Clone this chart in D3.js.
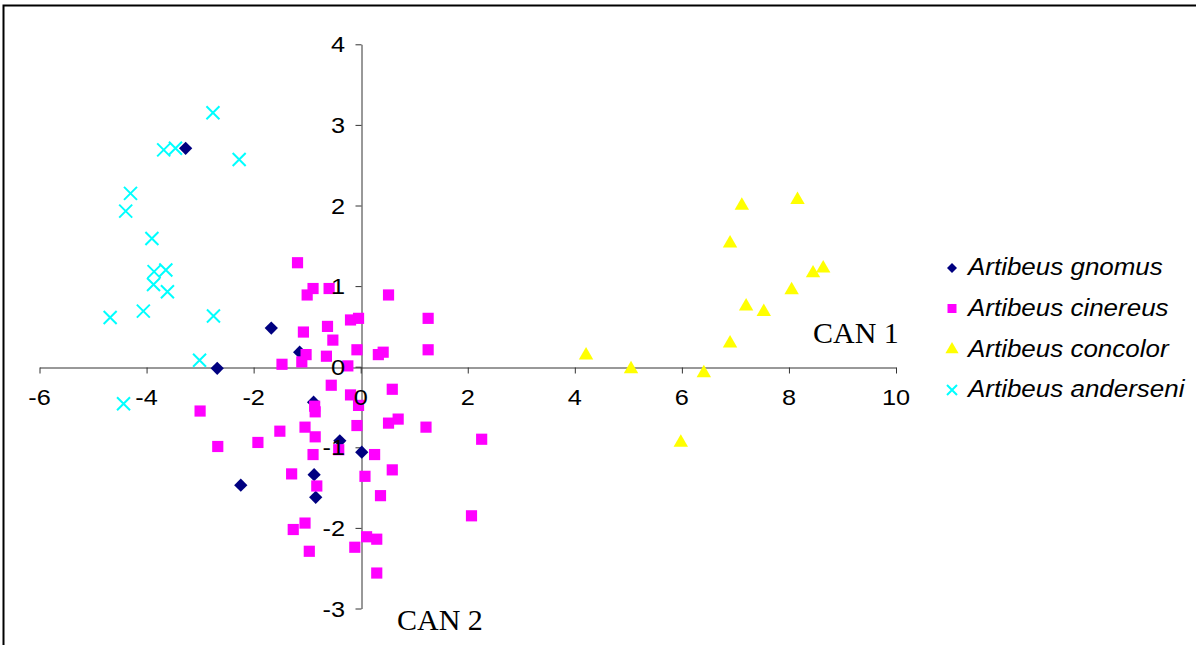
<!DOCTYPE html>
<html>
<head>
<meta charset="utf-8">
<script src="https://cdn.jsdelivr.net/npm/d3@7"></script>
<style>
  body { margin: 0; background: #fff; }
  svg { display: block; }
  .tick line, .domain { stroke: #333; }
</style>
</head>
<body>
<div id="chart"></div>
<script>
// canonical scores, [CAN 1, CAN 2]
var gnomus = [
  [-3.27, 2.71], [-1.67, 0.48], [-2.68, -0.02], [-1.14, 0.18], [-0.88, -0.44],
  [-0.39, -0.92], [0.02, -1.06], [-2.24, -1.47], [-0.87, -1.34], [-0.84, -1.62]
];
var cinereus = [
  [-1.18, 1.29], [-0.89, 0.97], [-1.00, 0.89], [-0.59, 0.97], [0.52, 0.89],
  [-0.19, 0.58], [-0.04, 0.60], [1.26, 0.60], [-0.62, 0.50], [-1.07, 0.43],
  [-0.52, 0.33], [-0.07, 0.21], [1.26, 0.21], [0.33, 0.15], [0.42, 0.18],
  [-1.02, 0.15], [-1.10, 0.06], [-0.64, 0.13], [-1.47, 0.03], [-0.24, 0.01],
  [-0.55, -0.23], [-0.19, -0.35], [-0.04, -0.48], [0.59, -0.28], [-3.00, -0.55],
  [-0.86, -0.49], [-0.85, -0.56], [-0.07, -0.73], [0.52, -0.70], [0.70, -0.65],
  [1.22, -0.75], [-1.51, -0.80], [-1.04, -0.75], [-0.85, -0.87], [-2.67, -0.99],
  [-1.92, -0.94], [2.26, -0.90], [-0.89, -1.09], [-0.41, -1.03], [0.26, -1.09],
  [-1.29, -1.33], [0.08, -1.36], [0.59, -1.28], [-0.82, -1.48], [0.37, -1.60],
  [2.07, -1.85], [-1.04, -1.94], [-1.26, -2.02], [0.11, -2.11], [0.30, -2.14],
  [-0.11, -2.24], [-0.96, -2.29], [0.30, -2.56]
];
var concolor = [
  [7.12, 2.00], [8.16, 2.07], [6.90, 1.53], [8.45, 1.16], [8.64, 1.22],
  [8.05, 0.95], [7.20, 0.75], [7.53, 0.68], [6.90, 0.29], [4.21, 0.14],
  [5.05, -0.03], [6.41, -0.08], [5.98, -0.94]
];
var anderseni = [
  [-2.76, 3.15], [-3.68, 2.69], [-3.46, 2.71], [-2.27, 2.57], [-4.30, 2.15],
  [-4.39, 1.93], [-3.90, 1.59], [-3.86, 1.18], [-3.64, 1.20], [-3.87, 1.02],
  [-3.61, 0.93], [-4.06, 0.69], [-4.68, 0.61], [-2.75, 0.63], [-3.01, 0.08],
  [-4.43, -0.46]
];
var xTicks = [-6, -4, -2, 0, 2, 4, 6, 8, 10];
var yTicks = [-3, -2, -1, 0, 1, 2, 3, 4];
var seriesNames = ["Artibeus gnomus", "Artibeus cinereus", "Artibeus concolor", "Artibeus anderseni"];

var width = 1196, height = 645;
var svg = d3.select("#chart").append("svg").attr("width", width).attr("height", height);

// outer frame (only top and left edges show in the window)
svg.append("rect").attr("x", 3.5).attr("y", 5.5).attr("width", 1400).attr("height", 900)
  .attr("fill", "none").attr("stroke", "#000").attr("stroke-width", 2);

var x = d3.scaleLinear().domain([-6, 10]).range([39.5, 896]);
var y = d3.scaleLinear().domain([-3, 4]).range([608.5, 44.3]);

// axis lines and tick marks go under the markers
var xAxis = d3.axisBottom(x).tickValues(xTicks).tickSize(6).tickSizeOuter(0).tickFormat("");
var yAxis = d3.axisLeft(y).tickValues(yTicks).tickSize(6).tickSizeOuter(0).tickFormat("");
svg.append("g").attr("transform", "translate(0," + Math.round(y(0)) + ".5)").call(xAxis);
svg.append("g").attr("transform", "translate(" + Math.round(x(0)) + ".5,0)").call(yAxis);

var pts = svg.append("g");
function sym(type, size) { return d3.symbol().type(type).size(size)(); }

pts.selectAll("path.gn").data(gnomus).enter().append("path").attr("class", "gn")
  .attr("d", sym(d3.symbolSquare, 88))
  .attr("transform", function (d) { return "translate(" + x(d[0]) + "," + y(d[1]) + ") rotate(45)"; })
  .attr("fill", "#000080");

pts.selectAll("path.ci").data(cinereus).enter().append("path").attr("class", "ci")
  .attr("d", sym(d3.symbolSquare, 125))
  .attr("transform", function (d) { return "translate(" + x(d[0]) + "," + y(d[1]) + ")"; })
  .attr("fill", "#ff00ff");

pts.selectAll("path.co").data(concolor).enter().append("path").attr("class", "co")
  .attr("d", sym(d3.symbolTriangle, 90))
  .attr("transform", function (d) { return "translate(" + x(d[0]) + "," + y(d[1]) + ")"; })
  .attr("fill", "#ffff00");

var cross = "M-6.5,-6.5L6.5,6.5M-6.5,6.5L6.5,-6.5";
pts.selectAll("path.an").data(anderseni).enter().append("path").attr("class", "an")
  .attr("d", cross)
  .attr("transform", function (d) { return "translate(" + x(d[0]) + "," + y(d[1]) + ")"; })
  .attr("fill", "none").attr("stroke", "#00ffff").attr("stroke-width", 2);

// tick labels sit on top of the markers
var lab = svg.append("g").attr("font-family", "Liberation Sans, Arial, sans-serif")
  .attr("font-size", 22).attr("fill", "#000");
lab.selectAll("text.xl").data(xTicks).enter().append("text").attr("class", "xl")
  .attr("text-anchor", "middle")
  .attr("transform", function (d) { return "translate(" + x(d) + ",405) scale(1.15,1)"; })
  .text(function (d) { return d; });
lab.selectAll("text.yl").data(yTicks).enter().append("text").attr("class", "yl")
  .attr("text-anchor", "end")
  .attr("transform", function (d) { return "translate(345," + (y(d) + 8) + ") scale(1.15,1)"; })
  .text(function (d) { return d; });

// axis titles
svg.append("text").attr("x", 813).attr("y", 343).attr("font-family", "Liberation Serif, Times New Roman, serif")
  .attr("font-size", 30).text("CAN 1");
svg.append("text").attr("x", 397).attr("y", 630).attr("font-family", "Liberation Serif, Times New Roman, serif")
  .attr("font-size", 30).text("CAN 2");

// legend
var legend = svg.append("g").attr("transform", "translate(952,0)");
var rowY = [268, 308.5, 349.5, 390];
var legMarks = [
  function (g) { g.append("path").attr("d", sym(d3.symbolSquare, 50)).attr("transform", "rotate(45)").attr("fill", "#000080"); },
  function (g) { g.append("path").attr("d", sym(d3.symbolSquare, 81)).attr("fill", "#ff00ff"); },
  function (g) { g.append("path").attr("d", sym(d3.symbolTriangle, 75)).attr("fill", "#ffff00"); },
  function (g) { g.append("path").attr("d", "M-5,-5L5,5M-5,5L5,-5").attr("stroke", "#00ffff").attr("stroke-width", 2); }
];
seriesNames.forEach(function (name, i) {
  var row = legend.append("g").attr("transform", "translate(0," + rowY[i] + ")");
  legMarks[i](row);
  row.append("text").attr("transform", "translate(16,7) scale(1.06,1)")
    .attr("font-family", "Liberation Sans, Arial, sans-serif")
    .attr("font-style", "italic").attr("font-size", 24.5).text(name);
});
</script>
</body>
</html>
